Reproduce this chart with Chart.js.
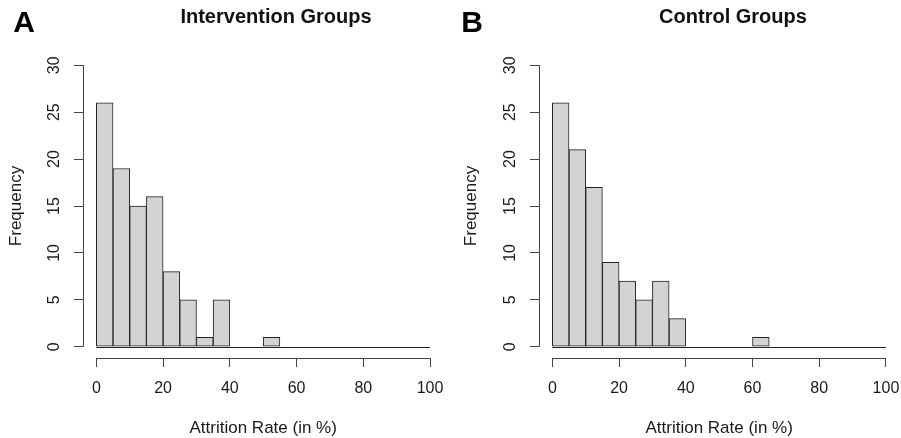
<!DOCTYPE html>
<html>
<head>
<meta charset="utf-8">
<script src="https://cdn.jsdelivr.net/npm/chart.js@4/dist/chart.umd.min.js"></script>
<style>
  body { margin: 0; background: #fff; font-family: "Liberation Sans", Arial, sans-serif; }
  .panel { position: absolute; top: 0; height: 438px; }
  .letter { position: absolute; font-weight: bold; font-size: 30px; line-height: 1; color: #000; transform: translate(-50%, -50%); }
  .title { position: absolute; font-weight: bold; font-size: 20px; line-height: 1; color: #111; white-space: nowrap; transform: translate(-50%, -50%); }
</style>
</head>
<body>
<div class="panel" style="left:0;width:450px"><canvas id="chartA" width="450" height="438"></canvas></div>
<div class="panel" style="left:450px;width:451px"><canvas id="chartB" width="451" height="438"></canvas></div>
<div class="letter" style="left:24px;top:22px">A</div>
<div class="title" style="left:276px;top:16px">Intervention Groups</div>
<div class="letter" style="left:472px;top:22px">B</div>
<div class="title" style="left:733px;top:16px">Control Groups</div>
<script>
// histogram bins, width 5, left edges
const binStarts = [0, 5, 10, 15, 20, 25, 30, 35, 40, 45, 50, 55, 60, 65, 70, 75, 80, 85, 90, 95];
const binWidth = 5;
const interventionCounts = [26, 19, 15, 16, 8, 5, 1, 5, 0, 0, 1, 0, 0, 0, 0, 0, 0, 0, 0, 0];
const controlCounts = [26, 21, 17, 9, 7, 5, 7, 3, 0, 0, 0, 0, 1, 0, 0, 0, 0, 0, 0, 0];
const yTicks = [0, 5, 10, 15, 20, 25, 30];
const xTicks = [0, 20, 40, 60, 80, 100];

const axisColor = '#444';
const textColor = '#1a1a1a';
const fontFamily = '"Liberation Sans", Arial, sans-serif';

// R style axes: lines only span the tick range, plus zero-height bins as a baseline
const rAxes = {
  id: 'rAxes',
  beforeDatasetsDraw(chart) {
    const {ctx, scales: {x, y}} = chart;
    const y0 = Math.round(y.getPixelForValue(0)) + 0.5;
    ctx.save();
    ctx.strokeStyle = '#222';
    ctx.lineWidth = 1;
    ctx.beginPath();
    ctx.moveTo(x.getPixelForValue(binStarts[0]), y0);
    ctx.lineTo(x.getPixelForValue(binStarts[binStarts.length - 1] + binWidth), y0);
    ctx.stroke();
    ctx.restore();
  },
  afterDraw(chart) {
    const {ctx, chartArea, scales: {x, y}} = chart;
    ctx.save();
    ctx.strokeStyle = axisColor;
    ctx.lineWidth = 1;
    ctx.beginPath();
    const lx = Math.round(chartArea.left) + 0.5;
    ctx.moveTo(lx, y.getPixelForValue(yTicks[0]));
    ctx.lineTo(lx, y.getPixelForValue(yTicks[yTicks.length - 1]));
    const by = Math.round(chartArea.bottom) + 0.5;
    ctx.moveTo(x.getPixelForValue(xTicks[0]), by);
    ctx.lineTo(x.getPixelForValue(xTicks[xTicks.length - 1]), by);
    ctx.stroke();
    ctx.restore();
  }
};

function makeHist(id, counts, yWidth, rightPad, yTitlePad) {
  return new Chart(document.getElementById(id), {
    type: 'bar',
    data: {
      datasets: [{
        data: binStarts.map((b, i) => ({x: b + binWidth / 2, y: counts[i]})),
        backgroundColor: '#d3d3d3',
        borderColor: '#222',
        borderWidth: 1,
        borderSkipped: false,
        barPercentage: 1,
        categoryPercentage: 1
      }]
    },
    options: {
      responsive: false,
      animation: false,
      layout: {padding: {top: 54, right: rightPad, left: 0, bottom: 0}},
      plugins: {legend: {display: false}, tooltip: {enabled: false}},
      scales: {
        x: {
          type: 'linear',
          offset: false,
          min: -4,
          max: 104,
          afterBuildTicks: s => { s.ticks = xTicks.map(v => ({value: v})); },
          afterFit: s => { s.height = 80; s.paddingLeft = 0; s.paddingRight = 0; },
          border: {display: false},
          grid: {offset: false, drawOnChartArea: false, drawTicks: true, tickLength: 9, color: axisColor},
          ticks: {color: textColor, padding: 12, maxRotation: 0, autoSkip: false,
                  font: {family: fontFamily, size: 16}},
          title: {display: true, text: 'Attrition Rate (in %)', color: textColor,
                  padding: {top: 0, bottom: 1.5}, font: {family: fontFamily, size: 17, lineHeight: 1}}
        },
        y: {
          min: -1.2,
          max: 31.2,
          afterBuildTicks: s => { s.ticks = yTicks.map(v => ({value: v})); },
          afterFit: s => { s.width = yWidth; s.paddingTop = 0; s.paddingBottom = 0; },
          border: {display: false},
          grid: {drawOnChartArea: false, drawTicks: true, tickLength: 9, color: axisColor},
          ticks: {color: textColor, padding: 11, minRotation: 90, maxRotation: 90,
                  crossAlign: 'center', autoSkip: false,
                  font: {family: fontFamily, size: 16}},
          title: {display: true, text: 'Frequency', color: textColor,
                  padding: {top: yTitlePad, bottom: 0}, font: {family: fontFamily, size: 17, lineHeight: 1}}
        }
      }
    },
    plugins: [rAxes]
  });
}

makeHist('chartA', interventionCounts, 83, 6.6, 7.5);
makeHist('chartB', controlCounts, 89, 1.7, 13.2);
</script>
</body>
</html>
